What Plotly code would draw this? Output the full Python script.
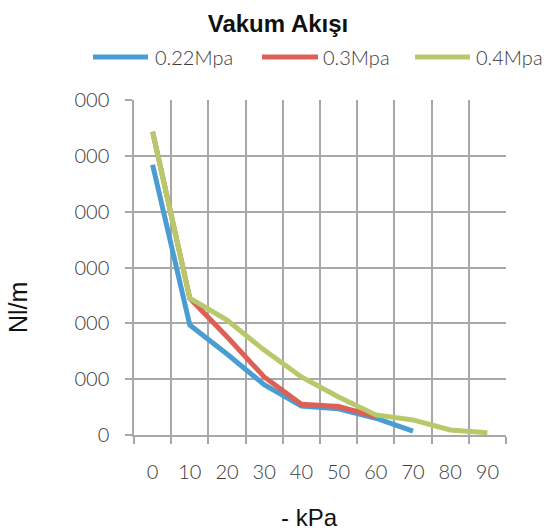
import plotly.graph_objects as go

# Vacuum flow (Nl/min) against vacuum level (-kPa) for three supply pressures
kpa = [0, 10, 20, 30, 40, 50, 60, 70, 80, 90]
flow_022 = [4840, 1970, 1450, 900, 520, 470, 300, 70]
flow_03 = [5430, 2450, 1760, 1040, 550, 510, 330]
flow_04 = [5430, 2450, 2060, 1520, 1040, 680, 360, 270, 90, 40]

y_ticks = [0, 1000, 2000, 3000, 4000, 5000, 6000]
y_ticktext = ["0", "000", "000", "000", "000", "000", "000"]

series_names = ["0.22Mpa", "0.3Mpa", "0.4Mpa"]
colors = ["#4a9dd3", "#dd5f55", "#b7c96a"]

W, H = 556, 530
ML, MR, MT, MB = 134, 50, 100, 95
PW, PH = W - ML - MR, H - MT - MB

thin_font = dict(family="Lato", size=20, color="#3a3a3a", weight=300)

fig = go.Figure()
for name, vals, col in zip(series_names, [flow_022, flow_03, flow_04], colors):
    fig.add_trace(go.Scatter(
        x=kpa[:len(vals)], y=vals, mode="lines", name=name,
        line=dict(color=col, width=5), showlegend=False,
    ))


def px_x(p):
    return (p - ML) / PW


def px_y(p):
    return (H - MB - p) / PH


# legend row across the top
legend_items = [(93, 148, 153), (262, 318, 321), (415, 470, 474)]
for (x0, x1, xt), name, col in zip(legend_items, series_names, colors):
    fig.add_shape(type="line", xref="paper", yref="paper",
                  x0=px_x(x0), x1=px_x(x1), y0=px_y(57), y1=px_y(57),
                  line=dict(color=col, width=5))
    fig.add_annotation(text=name, xref="paper", yref="paper",
                       x=px_x(xt), y=px_y(57), xanchor="left", yanchor="middle",
                       showarrow=False, font=thin_font)

fig.add_annotation(text="Nl/m", xref="paper", yref="paper",
                   x=px_x(18), y=px_y(308), textangle=-90,
                   xanchor="center", yanchor="middle", showarrow=False,
                   font=dict(family="Liberation Sans", size=25, color="#111"))
fig.add_annotation(text="- kPa", xref="paper", yref="paper",
                   x=px_x(309), y=px_y(517), xanchor="center", yanchor="middle",
                   showarrow=False,
                   font=dict(family="Liberation Sans", size=24, color="#111"))

grid = "#a8a8a8"
step = kpa[1] - kpa[0]
fig.update_layout(
    width=W, height=H,
    margin=dict(l=ML, r=MR, t=MT, b=MB),
    paper_bgcolor="white", plot_bgcolor="white",
    title=dict(text="<b>Vakum Akışı</b>", x=0.5, xref="container",
               y=1 - 24 / H, yanchor="middle", xanchor="center",
               font=dict(family="Liberation Sans", size=24, color="#111")),
    # labels sit at the category centres, grid lines and ticks on the boundaries
    xaxis=dict(range=[kpa[0] - step / 2, kpa[-1] + step / 2],
               tickvals=kpa, ticktext=[str(k) for k in kpa],
               showgrid=False, ticks="", tickfont=thin_font,
               ticklabelstandoff=18, zeroline=False,
               showline=True, linecolor=grid, linewidth=1.5,
               minor=dict(tick0=kpa[0] - step / 2, dtick=step, showgrid=True,
                          gridcolor=grid, gridwidth=1.5, ticks="outside",
                          ticklen=7, tickcolor=grid, tickwidth=1.5)),
    yaxis=dict(range=[0, 6000], tickvals=y_ticks, ticktext=y_ticktext,
               showgrid=True, gridcolor=grid, gridwidth=1.5, ticks="outside",
               ticklen=7, tickcolor=grid, tickwidth=1.5, showline=True,
               linecolor=grid, linewidth=1.5, tickfont=thin_font,
               ticklabelstandoff=12, zeroline=False),
)

fig.write_html("out.html")
